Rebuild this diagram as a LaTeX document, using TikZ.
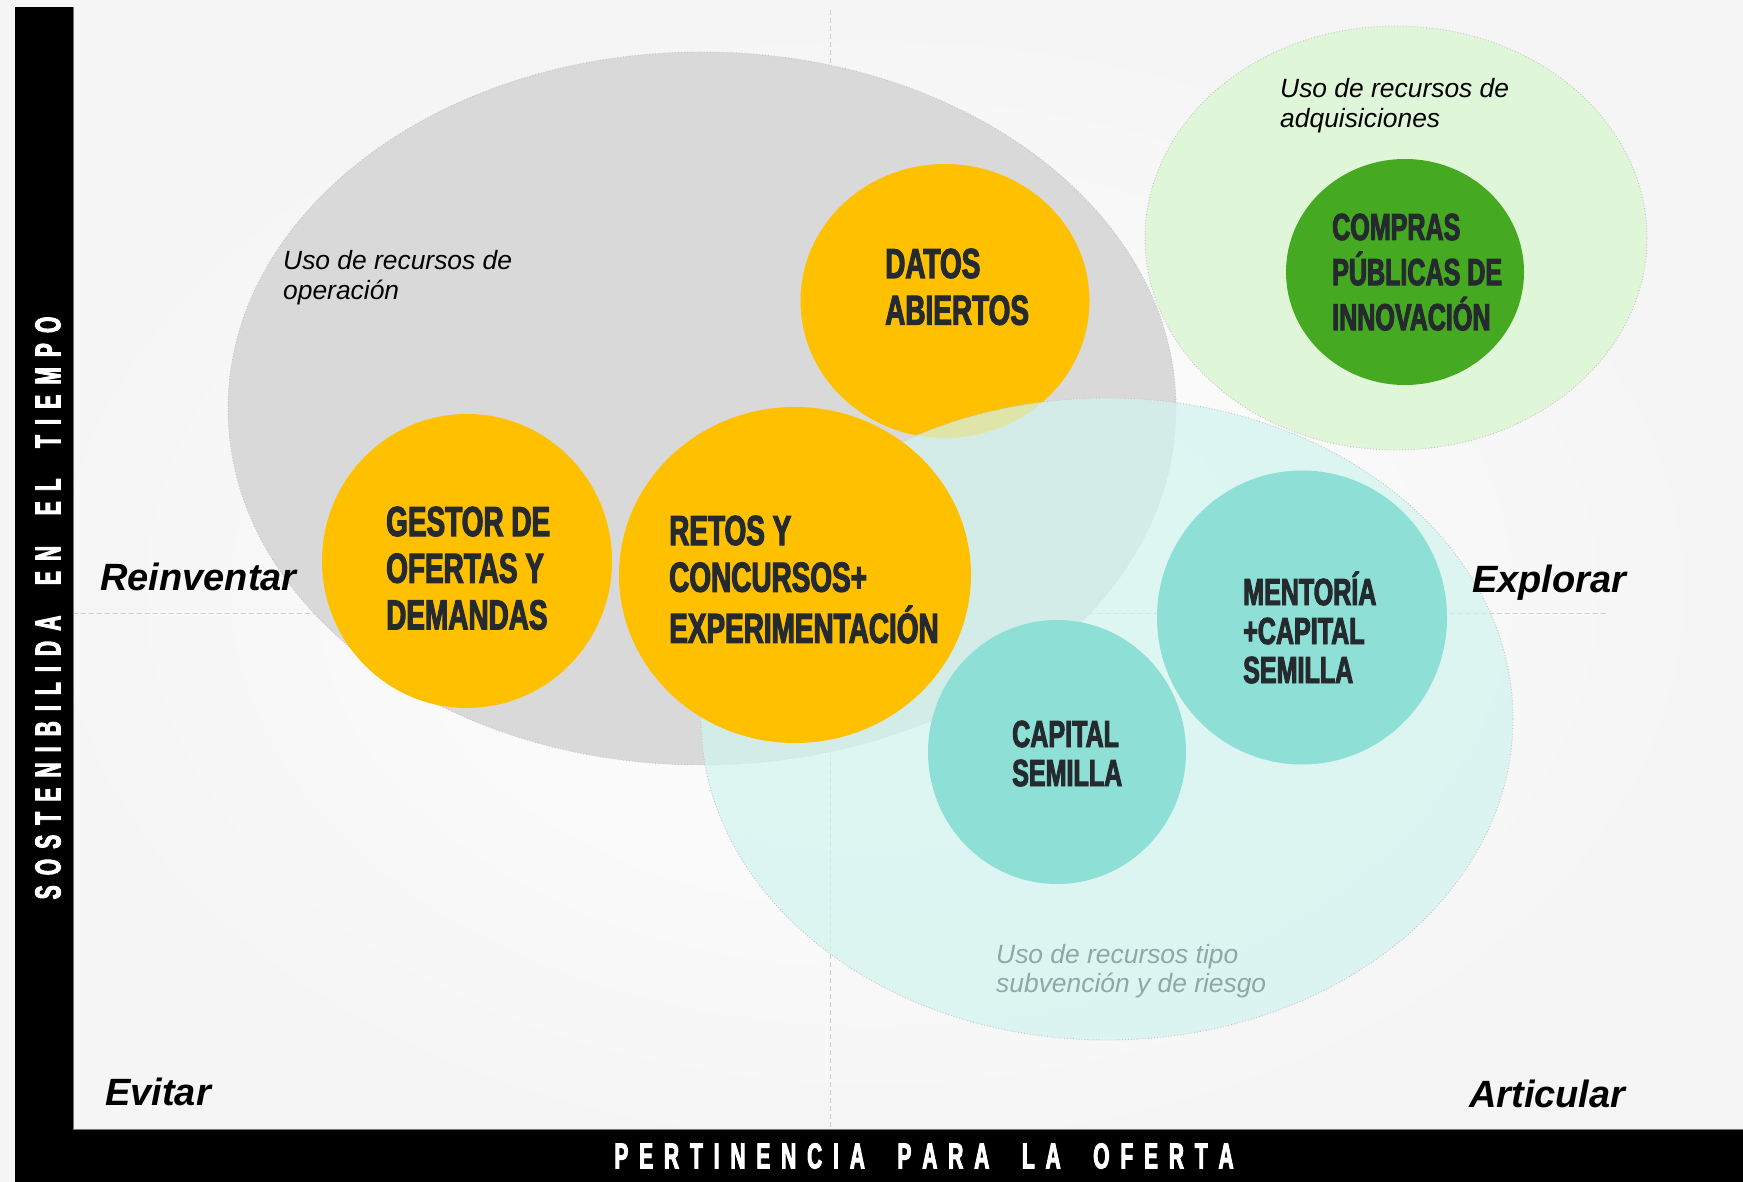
\documentclass[tikz,border=0pt]{standalone}
\usepackage{fontspec}
\setmainfont{Liberation Sans}
\newfontfamily\impactfont[FakeStretch=0.665,FakeBold=2.6]{Liberation Sans}
\newfontfamily\axisfont[FakeStretch=0.58,FakeBold=2.6]{Liberation Sans}
\definecolor{ygold}{HTML}{FFC000}
\definecolor{ellgray}{HTML}{D9D9D9}
\definecolor{lgreen}{HTML}{E0F6D8}
\definecolor{dgreen}{HTML}{46A922}
\definecolor{lcyan}{RGB}{210,244,239}
\definecolor{mteal}{HTML}{8EE0D6}
\definecolor{txtdark}{HTML}{252A2E}
\definecolor{subtxt}{HTML}{8FA8A5}
\definecolor{axisdash}{HTML}{D0D0D0}
\definecolor{rimgray}{HTML}{C4C4C4}
\newdimen\lsp
\def\spaced#1{\spacedi#1\relax\unkern}
\def\spacedi#1{\ifx#1\relax\else#1\kern\lsp\expandafter\spacedi\fi}
\newcommand\mylines[1]{\begin{tabular}[t]{@{}l@{}}#1\end{tabular}}
\tikzset{
  rim/.style={draw=rimgray, dotted, line width=0.9pt},
  axisdashed/.style={draw=axisdash, line width=1pt, dash pattern=on 5pt off 3pt},
  bigtext/.style={anchor=base west, inner sep=0pt, text=txtdark,
    font={\impactfont\bfseries\fontsize{42}{46.7}\selectfont}},
  smalltext/.style={anchor=base west, inner sep=0pt, text=txtdark,
    font={\impactfont\bfseries\fontsize{37.7}{39}\selectfont}},
  resource/.style={anchor=base west, inner sep=0pt, text=black,
    font={\itshape\fontsize{26.4}{29.5}\selectfont}},
  quadrant/.style={anchor=base west, inner sep=0pt, text=black,
    font={\bfseries\itshape\fontsize{38}{44}\selectfont}},
  axislbl/.style={inner sep=0pt, text=white,
    font={\axisfont\bfseries\fontsize{36}{40}\selectfont}}
}
\begin{document}
\begin{tikzpicture}[x=1pt,y=-1pt]
\useasboundingbox (0,0) rectangle (1743,1182);
% background
\shade[inner color=white, outer color=black!4] (0,0) rectangle (1743,1182);
% quadrant axes
\coordinate (vtop) at (830,10);
\coordinate (vbot) at (830,1130);
\coordinate (hleft) at (73,613);
\coordinate (hright) at (1608,613);
\draw[axisdashed] (vtop) -- (vbot);
\draw[axisdashed] (hleft) -- (hright);
% resource areas
\fill[lgreen] (1396,238) ellipse [x radius=251pt, y radius=212pt];
\draw[rim] (1396,238) ellipse [x radius=251pt, y radius=212pt];
\fill[ellgray] (702,408.5) ellipse [x radius=474pt, y radius=356.5pt];
\draw[rim] (702,408.5) ellipse [x radius=474pt, y radius=356.5pt];
\fill[ygold] (945,301) ellipse [x radius=144.5pt, y radius=137pt];
\fill[lcyan, fill opacity=0.71] (1107,719) ellipse [x radius=406pt, y radius=321pt];
\draw[rim] (1107,719) ellipse [x radius=406pt, y radius=321pt];
% instruments
\fill[ygold] (467,561) ellipse [x radius=145pt, y radius=147pt];
\fill[ygold] (795,575) ellipse [x radius=176pt, y radius=168pt];
\fill[mteal] (1302,617.5) ellipse [x radius=145pt, y radius=147pt];
\fill[mteal] (1057,752) ellipse [x radius=129pt, y radius=132pt];
\fill[dgreen] (1405,272) ellipse [x radius=119pt, y radius=113pt];
% bars
\fill[black] (15,7) rectangle (73,1182);
\fill[black] (15,1130) rectangle (1743,1182);
\draw[black!55, line width=1.2pt] (73.6,7) -- (73.6,1129.4) -- (1743,1129.4);
% axis labels
\node (xlabel) [axislbl] at (924,1156) {\lsp=10.9pt\spaced{PERTINENCIA}\kern32.6pt\spaced{PARA}\kern32.6pt\spaced{LA}\kern32.6pt\spaced{OFERTA}};
\node (ylabel) [axislbl, rotate=90] at (48,608) {\lsp=10.2pt\spaced{SOSTENIBILIDA}\kern30.6pt\spaced{EN}\kern30.6pt\spaced{EL}\kern30.6pt\spaced{TIEMPO}};
% quadrant labels
\node (reinv) [quadrant] at (100,590) {Reinventar};
\node (explo) [quadrant] at (1472,592) {Explorar};
\node (evit) [quadrant] at (105,1105) {Evitar};
\node (artic) [quadrant] at (1469,1107) {Articular};
% resource labels
\node (opres) [resource] at (283,270) {\mylines{Uso de recursos de\\operación}};
\node (adqres) [resource] at (1280,98) {\mylines{Uso de recursos de\\adquisiciones}};
\node (subres) [resource, text=subtxt] at (996,963) {\mylines{Uso de recursos tipo\\subvención y de riesgo}};
% instrument labels
\node (datos) [bigtext] at (885,278) {\mylines{DATOS\\ABIERTOS}};
\node (gestor) [bigtext] at (386,536) {\mylines{GESTOR DE\\OFERTAS Y\\DEMANDAS}};
\node (retos) [bigtext] at (669,545) {\mylines{RETOS Y\\CONCURSOS+\\EXPERIMENTACIÓN}};
\node (compras) [smalltext] at (1332,240) {\mylines{COMPRAS\\PÚBLICAS DE\\INNOVACIÓN}};
\node (mentoria) [smalltext] at (1243,605) {\mylines{MENTORÍA\\+CAPITAL\\SEMILLA}};
\node (capital) [smalltext] at (1012,747) {\mylines{CAPITAL\\SEMILLA}};
\end{tikzpicture}
\end{document}
